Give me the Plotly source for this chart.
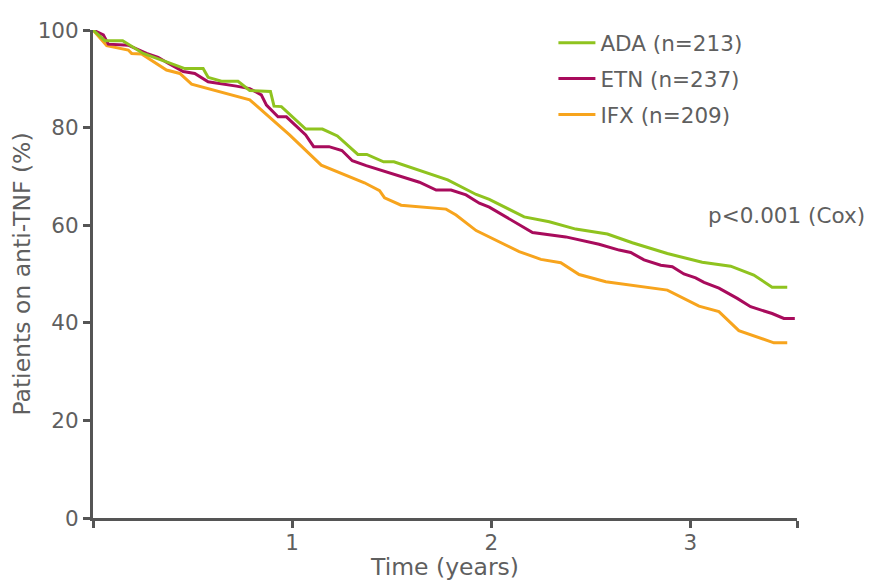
import plotly.graph_objects as go

ada_t = [0, 0.060, 0.149, 0.177, 0.252, 0.386, 0.461, 0.553, 0.578, 0.645, 0.728, 0.787, 0.891, 0.909, 0.946,
         1.068, 1.152, 1.227, 1.330, 1.375, 1.459, 1.511, 1.723, 1.781, 1.924, 1.990, 2.165, 2.291, 2.424, 2.583,
         2.708, 2.884, 3.059, 3.202, 3.318, 3.410, 3.486]
ada_v = [100, 97.8, 97.8, 97.1, 95.2, 93.2, 92.1, 92.1, 90.3, 89.5, 89.5, 87.6, 87.4, 84.4, 84.3,
         79.7, 79.7, 78.3, 74.5, 74.5, 73.0, 73.0, 70.1, 69.3, 66.3, 65.3, 61.7, 60.7, 59.2, 58.2,
         56.4, 54.2, 52.4, 51.6, 49.8, 47.3, 47.3]

etn_t = [0, 0.052, 0.077, 0.177, 0.269, 0.327, 0.377, 0.453, 0.511, 0.578, 0.720, 0.787, 0.845, 0.871, 0.929,
         0.971, 1.068, 1.108, 1.185, 1.250, 1.302, 1.372, 1.639, 1.723, 1.798, 1.873, 1.940, 1.990, 2.207, 2.291,
         2.374, 2.541, 2.642, 2.700, 2.767, 2.851, 2.909, 2.967, 3.026, 3.068, 3.143, 3.235, 3.302, 3.410, 3.469, 3.524]
etn_v = [100, 99.0, 97.1, 96.9, 95.2, 94.4, 93.2, 91.5, 91.1, 89.4, 88.5, 88.0, 86.7, 84.6, 82.2,
         82.2, 78.5, 76.1, 76.1, 75.3, 73.2, 72.2, 68.8, 67.2, 67.2, 66.2, 64.5, 63.7, 58.5, 58.1,
         57.6, 56.1, 54.9, 54.4, 52.9, 51.8, 51.5, 50.0, 49.2, 48.3, 47.1, 45.0, 43.3, 41.9, 40.9, 40.9]

ifx_t = [0, 0.069, 0.177, 0.194, 0.244, 0.369, 0.436, 0.495, 0.787, 0.987, 1.146, 1.255, 1.363, 1.439, 1.464,
         1.547, 1.773, 1.823, 1.924, 2.140, 2.249, 2.349, 2.441, 2.575, 2.884, 3.043, 3.143, 3.243, 3.419, 3.486]
ifx_v = [100, 96.8, 95.9, 95.2, 95.1, 91.8, 91.1, 88.9, 85.7, 78.5, 72.3, 70.5, 68.7, 67.1, 65.6,
         64.1, 63.3, 62.1, 58.9, 54.6, 53.0, 52.3, 49.9, 48.4, 46.7, 43.4, 42.3, 38.4, 35.9, 35.9]

series_names = ["ADA (n=213)", "ETN (n=237)", "IFX (n=209)"]
x_ticks = [0, 1, 2, 3, 3.535]
x_ticktext = ["", "1", "2", "3", ""]
y_ticks = [0, 20, 40, 60, 80, 100]

FONT = "DejaVu Sans"
GREY = "#5f5f5f"
AXIS = "#555555"
FS = 21.5
TFS = 23.5

fig = go.Figure()
fig.add_trace(go.Scatter(x=ifx_t, y=ifx_v, mode="lines", name=series_names[2], legendgroup="c",
                         legendrank=3, line=dict(color="#f7a41d", width=3), cliponaxis=False))
fig.add_trace(go.Scatter(x=etn_t, y=etn_v, mode="lines", name=series_names[1], legendgroup="b",
                         legendrank=2, line=dict(color="#a80b5c", width=3), cliponaxis=False))
fig.add_trace(go.Scatter(x=ada_t, y=ada_v, mode="lines", name=series_names[0], legendgroup="a",
                         legendrank=1, line=dict(color="#8fc31f", width=3), cliponaxis=False))

fig.add_annotation(x=3.08, y=62, xref="x", yref="y", text="p<0.001 (Cox)", showarrow=False,
                   xanchor="left", yanchor="middle", font=dict(family=FONT, size=FS, color=GREY))

fig.update_layout(
    width=869, height=573,
    margin=dict(l=85, r=80, t=22, b=63, autoexpand=False),
    plot_bgcolor="white", paper_bgcolor="white",
    font=dict(family=FONT, size=FS, color=GREY),
    showlegend=True,
    legend=dict(x=0.654, y=1.016, xanchor="left", yanchor="top", traceorder="grouped",
                bgcolor="rgba(0,0,0,0)", font=dict(family=FONT, size=FS, color=GREY),
                tracegroupgap=5, itemwidth=37),
    xaxis=dict(range=[0, 3.535], tickvals=x_ticks, ticktext=x_ticktext, showgrid=False, zeroline=False,
               showline=True, linecolor=AXIS, linewidth=3, ticks="outside", ticklen=7, tickwidth=3,
               tickcolor=AXIS, ticklabelstandoff=-4,
               title=dict(text="Time (years)", standoff=6, font=dict(family=FONT, size=TFS, color=GREY)),
               automargin=False, tickfont=dict(family=FONT, size=FS, color=GREY)),
    yaxis=dict(range=[0, 100], tickvals=y_ticks, showgrid=False, zeroline=False,
               showline=True, linecolor=AXIS, linewidth=3, ticks="outside", ticklen=7, tickwidth=3,
               tickcolor=AXIS,
               title=dict(text="Patients on anti-TNF (%)", standoff=2, font=dict(family=FONT, size=TFS, color=GREY)),
               automargin=False, tickfont=dict(family=FONT, size=FS, color=GREY)),
)

fig.write_html("out.html")
